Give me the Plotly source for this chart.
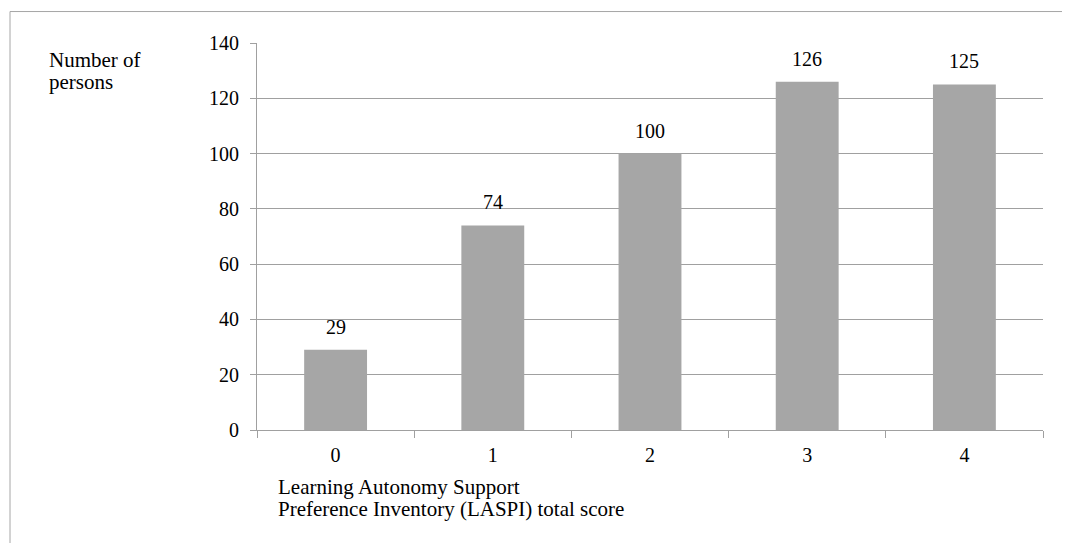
import plotly.graph_objects as go

categories = ["0", "1", "2", "3", "4"]
persons = [29, 74, 100, 126, 125]
y_ticks = [0, 20, 40, 60, 80, 100, 120, 140]
y_title_lines = ["Number of", "persons"]
x_title_lines = ["Learning Autonomy Support", "Preference Inventory (LASPI) total score"]

OFF = 8  # default page body margin
W, H = 1070 - OFF, 543 - OFF
L, R, T, B = 257 - OFF, 1043 - OFF, 42.5 - OFF, 430 - OFF
pw, ph = R - L, B - T

def px_x(x):
    return (x - OFF - L) / pw

def px_y(y):
    return (B - (y - OFF)) / ph

FONT = "Liberation Serif, Times New Roman, serif"
GRAY = "#A6A6A6"
GRID = "#A0A0A0"

fig = go.Figure()
fig.add_trace(go.Bar(
    x=categories, y=persons, width=0.4,
    marker=dict(color=GRAY, line=dict(width=0)),
    hoverinfo="x+y",
))

annotations = []
for c, v in zip(categories, persons):
    annotations.append(dict(x=c, y=v, xref="x", yref="y", text=str(v), showarrow=False,
                            yanchor="middle", xanchor="center", yshift=23,
                            font=dict(family=FONT, size=20, color="black")))
for line, yc in zip(y_title_lines, [60, 82]):
    annotations.append(dict(x=px_x(47), y=px_y(yc), xref="paper", yref="paper", text=line,
                            showarrow=False, xanchor="left", yanchor="middle",
                            font=dict(family=FONT, size=21, color="black")))
for line, yc in zip(x_title_lines, [487, 509.5]):
    annotations.append(dict(x=px_x(276), y=px_y(yc), xref="paper", yref="paper", text=line,
                            showarrow=False, xanchor="left", yanchor="middle",
                            font=dict(family=FONT, size=21, color="black")))

fig.update_layout(
    width=W, height=H,
    margin=dict(l=L, r=W - R, t=T, b=H - B, pad=0),
    paper_bgcolor="white", plot_bgcolor="white",
    showlegend=False,
    font=dict(family=FONT, size=20, color="black"),
    annotations=annotations,
    shapes=[dict(type="rect", xref="paper", yref="paper",
                 x0=px_x(10), x1=px_x(1100), y0=px_y(600), y1=px_y(11),
                 line=dict(color=GRAY, width=1), fillcolor="rgba(0,0,0,0)", layer="below")],
)
fig.update_xaxes(
    type="category", range=[-0.5, 4.5],
    showline=True, linecolor=GRID, linewidth=1,
    ticks="outside", tickson="boundaries", ticklen=7, tickcolor=GRID, tickwidth=1,
    showgrid=False, zeroline=False,
    tickfont=dict(family=FONT, size=20, color="black"),
    ticklabelstandoff=7,
)
fig.update_yaxes(
    range=[0, 140], tickvals=y_ticks,
    showline=True, linecolor=GRID, linewidth=1,
    ticks="outside", ticklen=6, tickcolor=GRID, tickwidth=1,
    showgrid=True, gridcolor=GRID, gridwidth=1, zeroline=False,
    tickfont=dict(family=FONT, size=20, color="black"),
    ticklabelstandoff=7,
)

fig.write_html("out.html")
